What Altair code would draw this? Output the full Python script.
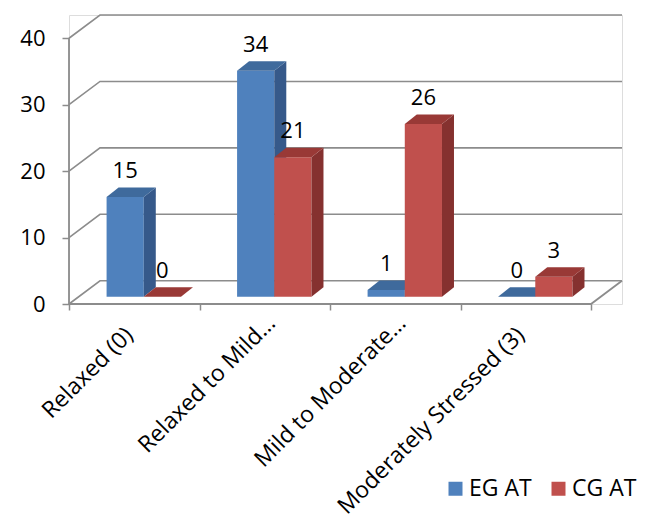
import altair as alt
import pandas as pd

# ---- data ----
categories = ["Relaxed (0)", "Relaxed to Mild…", "Mild to Moderate…", "Moderately Stressed (3)"]
series = ["EG AT", "CG AT"]
eg_values = [15, 34, 1, 0]
cg_values = [0, 21, 26, 3]
y_ticks = [0, 10, 20, 30, 40]

# ---- geometry of the pseudo-3D look (in data units) ----
WALL_DX, WALL_DY = 0.2375, 3.5      # back-wall offset
BAR_DX, BAR_DY = 0.092, 1.43        # bar depth
BASE = 1.1                          # bars stand in the middle of the floor depth
BAR_SLOTS = {"EG AT": (0.288, 0.573), "CG AT": (0.573, 0.858)}
X_MAX = 4 + WALL_DX
Y_MAX = 40 + WALL_DY

FRONT = {"EG AT": "#4F81BD", "CG AT": "#C0504D"}
SIDE = {"EG AT": "#36598A", "CG AT": "#85312F"}
TOP = {"EG AT": "#3F6A9C", "CG AT": "#993936"}
GRID = "#8C8C8C"
FONT = "Open Sans"

bars, sides, tops = [], [], []
for s, vals in zip(series, [eg_values, cg_values]):
    for i, (c, v) in enumerate(zip(categories, vals)):
        xl, xr = i + BAR_SLOTS[s][0], i + BAR_SLOTS[s][1]
        yt = BASE + v
        bars.append(dict(series=s, cat=c, v=v, xl=xl, xr=xr, xc=(xl + xr) / 2,
                         yb=BASE, yt=yt))
        sides.append(dict(series=s, cat=c, x=xr, yb=BASE, yt=yt))
        sides.append(dict(series=s, cat=c, x=xr + BAR_DX, yb=BASE + BAR_DY, yt=yt + BAR_DY))
        tops.append(dict(series=s, cat=c, y=yt, xl=xl, xr=xr))
        tops.append(dict(series=s, cat=c, y=yt + BAR_DY, xl=xl + BAR_DX, xr=xr + BAR_DX))
bars_df = pd.DataFrame(bars)
sides_df = pd.DataFrame(sides)
tops_df = pd.DataFrame(tops)

grid_rows = []
for t in y_ticks:
    grid_rows += [dict(g=t, k=0, x=0, y=t), dict(g=t, k=1, x=WALL_DX, y=t + WALL_DY),
                  dict(g=t, k=2, x=X_MAX, y=t + WALL_DY)]
grid_df = pd.DataFrame(grid_rows)

floor_df = pd.DataFrame([dict(k=0, x=0, y=40), dict(k=1, x=0, y=0), dict(k=2, x=4, y=0),
                         dict(k=3, x=X_MAX, y=WALL_DY)])

# truncated (ellipsised) labels sit a little further along their baseline, as in the source
cat_rows = []
for i, c in enumerate(categories):
    trunc = c.endswith("…")
    cat_rows.append(dict(cat=c, xc=i + 0.5 + (0.092 if trunc else 0.0),
                         yc=-4.9 + (1.8 if trunc else 0.0)))
cat_df = pd.DataFrame(cat_rows)

xs = alt.Scale(domain=[0, X_MAX], nice=False, zero=False)
ys = alt.Scale(domain=[0, Y_MAX], nice=False, zero=False)
axX = alt.Axis(values=[0, 1, 2, 3, 4], labels=False, domain=False, grid=False, ticks=True,
               tickSize=6, tickColor=GRID, tickWidth=1.5, title=None)
axY = alt.Axis(values=y_ticks, domain=False, grid=False, tickSize=7, tickColor=GRID,
               tickWidth=1.5, labelFontSize=22, labelFont=FONT, labelColor="#000000",
               labelPadding=17, title=None)

grid = alt.Chart(grid_df).mark_line(color=GRID, strokeWidth=1.6).encode(
    x=alt.X("x:Q", scale=xs, axis=axX),
    y=alt.Y("y:Q", scale=ys, axis=axY),
    detail="g:N", order="k:Q")

floor = alt.Chart(floor_df).mark_line(color=GRID, strokeWidth=1.8).encode(
    x=alt.X("x:Q", scale=xs, axis=axX),
    y=alt.Y("y:Q", scale=ys, axis=axY),
    order="k:Q")

color_scale = alt.Scale(domain=series, range=[FRONT[s] for s in series])
legend = alt.Legend(title=None, orient="none", legendX=375, legendY=462, direction="horizontal",
                    symbolType="square", symbolSize=196, symbolStrokeWidth=0,
                    labelFontSize=23, labelFont=FONT, labelColor="#000000",
                    labelOffset=2, columnPadding=15, padding=0)

layers = [grid, floor]
for s in series:
    front = alt.Chart(bars_df).transform_filter(alt.datum.series == s).mark_rect().encode(
        x=alt.X("xl:Q", scale=xs, axis=axX), x2="xr:Q",
        y=alt.Y("yb:Q", scale=ys, axis=axY), y2="yt:Q",
        color=alt.Color("series:N", scale=color_scale, legend=legend))
    side = alt.Chart(sides_df).transform_filter(alt.datum.series == s).mark_area(
        orient="vertical", color=SIDE[s]).encode(
        x=alt.X("x:Q", scale=xs, axis=axX),
        y=alt.Y("yb:Q", scale=ys, axis=axY), y2="yt:Q",
        detail="cat:N")
    top = alt.Chart(tops_df).transform_filter(alt.datum.series == s).mark_area(
        orient="horizontal", color=TOP[s]).encode(
        y=alt.Y("y:Q", scale=ys, axis=axY),
        x=alt.X("xl:Q", scale=xs, axis=axX), x2="xr:Q",
        detail="cat:N")
    layers += [front, side, top]

labels = alt.Chart(bars_df).mark_text(fontSize=22, font=FONT, color="#000000",
                                      baseline="middle", dy=-26).encode(
    x=alt.X("xc:Q", scale=xs, axis=axX),
    y=alt.Y("yt:Q", scale=ys, axis=axY),
    text="v:Q")

cat_labels = alt.Chart(cat_df).mark_text(fontSize=23, font=FONT, color="#000000",
                                         angle=315, align="right", baseline="alphabetic").encode(
    x=alt.X("xc:Q", scale=xs, axis=axX),
    y=alt.Y("yc:Q", scale=ys, axis=axY),
    text="cat:N")

layers += [labels, cat_labels]

chart = alt.layer(*layers).properties(
    width=553, height=289,
    autosize=alt.AutoSizeParams(type="none"),
    padding={"left": 69, "top": 15, "right": 35, "bottom": 216},
).configure_view(stroke=None).configure(background="white")

chart.save("out.html", embed_options={"renderer": "svg", "actions": False})
